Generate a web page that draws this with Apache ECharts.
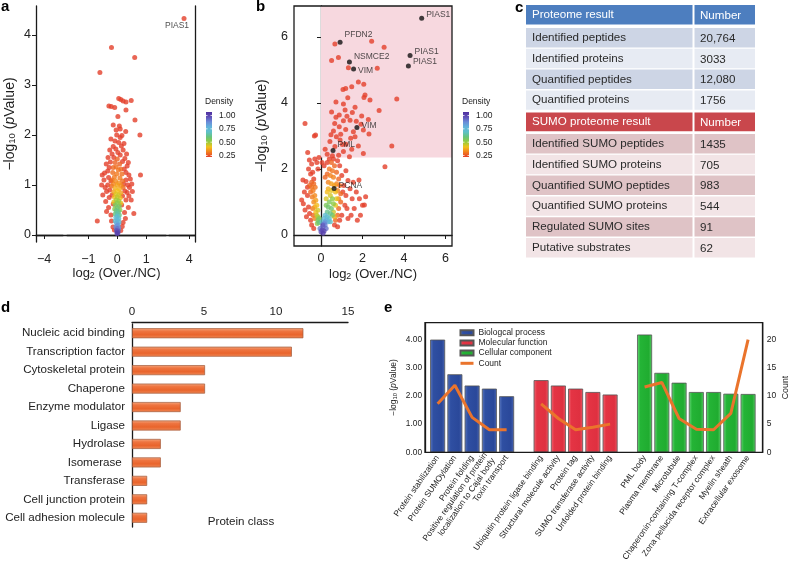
<!DOCTYPE html>
<html><head><meta charset="utf-8">
<script src="https://cdn.jsdelivr.net/npm/echarts@6/dist/echarts.min.js"></script>
<style>html,body{margin:0;padding:0;background:#fff}#c{width:791px;height:561px}</style>
</head><body><div id="c"></div>
<script>
// ---------------- DATA ----------------
// Panel a: [log2 ratio, -log10 p, density]
const aPoints = [
[-0.20,3.75,0.22],[0.60,3.55,0.22],[-0.60,3.25,0.22],
[0.05,2.73,0.22],[0.12,2.71,0.22],[0.20,2.68,0.22],[0.30,2.66,0.22],[0.48,2.69,0.22],
[-0.29,2.58,0.22],[-0.21,2.57,0.22],[-0.09,2.55,0.22],[0.30,2.50,0.22],[0.02,2.37,0.22],[0.61,2.30,0.22],
[-0.14,2.20,0.22],[0.07,2.18,0.22],[0.29,2.07,0.22],[0.78,2.00,0.22],[0.10,2.12,0.22],[-0.04,2.10,0.22],
[0.23,1.83,0.22],[-0.14,1.77,0.22],[-0.22,1.92,0.22],[0.10,1.95,0.22],[-0.02,2.00,0.22],[0.16,1.99,0.22],
[-0.08,1.88,0.22],[0.05,1.85,0.22],[0.14,1.78,0.22],[-0.26,1.70,0.22],[0.20,1.70,0.22],[0.32,1.62,0.22],
[-0.05,1.72,0.22],[0.02,1.65,0.22],[-0.18,1.62,0.22],[0.10,1.60,0.22],[-0.32,1.55,0.22],[0.26,1.53,0.22],
[-0.12,1.55,0.22],[0.38,1.45,0.22],[-0.38,1.42,0.22],[0.34,1.38,0.22],[-0.24,1.46,0.22],[0.18,1.47,0.22],
[-0.28,1.35,0.22],[0.24,1.32,0.22],[0.80,1.20,0.22],[0.40,1.20,0.22],[-0.52,1.20,0.22],[-0.44,1.24,0.22],
[-0.33,1.28,0.22],[0.30,1.25,0.22],[-0.30,1.15,0.22],[0.30,1.10,0.22],[-0.22,1.08,0.22],[0.22,1.02,0.22],
[-0.54,1.00,0.22],[0.50,1.02,0.22],[0.42,0.95,0.22],[-0.42,0.95,0.22],[-0.37,0.87,0.22],[0.52,0.87,0.22],
[0.34,0.85,0.22],[-0.26,0.90,0.22],[0.26,0.88,0.22],[0.48,0.70,0.22],[-0.40,0.67,0.22],[0.30,0.70,0.22],
[-0.28,0.75,0.22],[0.57,0.43,0.22],[-0.37,0.47,0.22],[-0.69,0.28,0.22],[0.38,0.55,0.22],[-0.30,0.55,0.22],
[0.25,0.45,0.22],[-0.22,0.40,0.22],[0.28,0.33,0.22],[0.20,0.25,0.22],[-0.20,0.28,0.22],[-0.15,0.16,0.22],
[0.17,0.17,0.22],[-0.10,0.10,0.22],[0.12,0.09,0.22],[-0.18,0.80,0.22],[0.18,0.78,0.22],[-0.14,0.62,0.22],
[0.15,0.60,0.22],[-0.46,1.10,0.22],[0.45,1.12,0.22],[-0.50,0.80,0.22],[0.40,0.78,0.22],[-0.33,1.00,0.22],[0.36,1.00,0.22],
[0.00,1.52,0.27],[-0.08,1.45,0.27],[0.08,1.42,0.27],[-0.14,1.35,0.28],[0.12,1.32,0.28],[-0.04,1.36,0.29],
[0.04,1.30,0.30],[-0.16,1.25,0.29],[0.16,1.22,0.29],[-0.02,1.22,0.31],[-0.10,1.16,0.31],[0.09,1.14,0.31],
[-0.18,1.10,0.29],[0.18,1.08,0.29],[-0.06,1.08,0.33],[0.05,1.04,0.34],[-0.13,1.02,0.32],[0.13,0.99,0.33],
[-0.20,0.98,0.28],[0.20,0.95,0.28],[0.00,1.00,0.36],
[-0.08,0.94,0.38],[0.07,0.92,0.38],[0.00,0.88,0.41],[-0.12,0.86,0.36],[0.12,0.84,0.36],[-0.05,0.82,0.43],
[0.05,0.80,0.44],[-0.10,0.76,0.40],[0.10,0.74,0.40],[0.00,0.76,0.46],[-0.04,0.70,0.49],[0.05,0.68,0.50],
[-0.12,0.66,0.42],[0.12,0.64,0.42],
[0.00,0.64,0.53],[-0.07,0.60,0.55],[0.07,0.58,0.55],[0.00,0.55,0.58],[-0.09,0.52,0.52],[0.09,0.50,0.52],
[-0.04,0.49,0.61],[0.04,0.47,0.62],[0.00,0.43,0.65],[-0.07,0.42,0.60],[0.07,0.40,0.60],
[0.00,0.38,0.70],[-0.05,0.35,0.72],[0.05,0.33,0.72],[0.00,0.30,0.76],[-0.07,0.28,0.70],[0.06,0.26,0.72],
[-0.03,0.24,0.80],[0.03,0.21,0.82],[0.00,0.19,0.86],
[-0.05,0.16,0.85],[0.05,0.14,0.86],[0.00,0.13,0.92],[-0.03,0.09,0.96],[0.03,0.08,0.96],[0.00,0.06,1.00],
[-0.01,0.03,1.02],[0.02,0.04,1.00]
];
const aOutlierNames = ['PIAS1'];
const aOutlierPoints = [[3.82,4.33,0.22]];

// Panel b: [log2 ratio, -log10 p, density]
const bPoints = [
[0.67,5.79,0.22],[2.44,5.87,0.22],[3.04,5.69,0.22],[0.51,5.29,0.22],[0.84,5.38,0.22],[1.32,5.07,0.22],
[2.71,5.05,0.22],[1.80,4.64,0.22],[1.06,4.41,0.22],[1.19,4.44,0.22],[1.48,4.49,0.22],[2.06,4.57,0.22],
[2.12,4.24,0.22],[2.07,4.17,0.22],[2.36,4.09,0.22],[3.65,4.12,0.22],[1.29,4.16,0.22],[0.72,4.03,0.22],
[1.08,3.97,0.22],[1.64,3.87,0.22],[1.16,3.79,0.22],[0.51,3.73,0.22],[1.51,3.71,0.22],[0.88,3.64,0.22],
[1.96,3.61,0.22],[2.80,3.77,0.22],[0.72,3.57,0.22],[1.08,3.46,0.22],[0.66,3.38,0.22],[1.40,3.48,0.22],
[2.28,3.50,0.22],[1.93,3.36,0.22],[0.88,3.28,0.22],[1.19,3.20,0.22],[1.56,3.13,0.22],[2.04,3.18,0.22],
[2.31,3.06,0.22],[0.48,3.04,0.22],[0.74,2.98,0.22],[0.92,2.88,0.22],[1.43,2.93,0.22],[1.64,2.98,0.22],
[1.03,2.74,0.22],[1.80,2.70,0.22],[0.67,2.68,0.22],[0.43,2.83,0.22],[3.41,2.70,0.22],[1.48,2.60,0.22],
[1.08,2.53,0.22],[2.04,2.47,0.22],[1.37,2.37,0.22],[0.30,2.45,0.22],[0.55,2.40,0.22],[0.85,2.42,0.22],
[0.20,2.60,0.22],[1.25,3.60,0.22],[1.70,3.45,0.22],[0.95,3.05,0.22],[1.20,2.75,0.22],[0.60,3.15,0.22],
[3.08,2.07,0.22],[2.15,1.16,0.22],[2.09,0.91,0.22],[1.83,1.67,0.22],
[-0.77,3.38,0.22],[-0.32,3.00,0.22],[-0.26,3.03,0.22],[-0.64,2.50,0.22],[-0.56,2.27,0.22],[-0.87,1.67,0.22],
[-0.72,1.62,0.22],[-0.93,1.06,0.22],[-0.77,0.76,0.22],[-0.60,2.00,0.22],[-0.45,2.15,0.22],[-0.30,2.30,0.22],
[-0.50,1.85,0.22],[-0.80,1.30,0.22],[-0.65,1.20,0.22],[-0.85,0.95,0.22],[-0.60,0.85,0.22],[-0.70,0.55,0.22],
[-0.50,0.45,0.22],[-0.55,0.65,0.22],[-0.40,1.90,0.22],[-0.20,2.20,0.22],[-0.35,1.70,0.22],[-0.15,2.00,0.22],
[-0.10,2.35,0.22],[0.05,2.20,0.22],[0.15,2.10,0.22],[-0.65,1.45,0.22],[-0.45,0.30,0.22],[-0.35,0.20,0.22],
[1.00,1.80,0.22],[1.10,1.50,0.22],[1.20,1.20,0.22],[1.15,0.90,0.22],[1.00,0.60,0.22],[0.90,0.45,0.22],
[1.30,1.65,0.22],[1.40,1.40,0.22],[1.50,1.10,0.22],[1.60,0.80,0.22],[1.45,0.60,0.22],[1.70,1.30,0.22],
[1.85,1.10,0.22],[2.00,0.90,0.22],[1.90,0.60,0.22],[1.30,0.50,0.22],[1.75,0.45,0.22],[1.55,1.60,0.22],
[1.20,1.95,0.22],[0.90,2.10,0.22],[0.80,2.25,0.22],[0.40,2.30,0.22],[0.65,0.30,0.22],[0.80,0.25,0.22],
[1.25,0.80,0.22],[1.05,1.30,0.22],[0.30,2.20,0.22],[0.60,2.30,0.22],
[0.50,2.20,0.28],[0.65,2.10,0.28],[0.75,1.90,0.28],[0.85,1.70,0.28],[0.90,1.50,0.28],[0.95,1.25,0.28],
[0.95,1.00,0.28],[0.85,0.80,0.28],[0.80,0.60,0.28],[0.70,0.45,0.28],[0.40,2.00,0.30],[0.55,1.95,0.30],
[0.30,1.85,0.28],[0.35,1.60,0.32],[0.60,1.75,0.32],[0.75,1.55,0.32],[0.80,1.35,0.32],[0.85,1.10,0.32],
[0.20,1.75,0.28],[0.45,1.80,0.32],
[-0.55,1.50,0.27],[-0.45,1.45,0.29],[-0.50,1.30,0.28],[-0.38,1.35,0.31],[-0.42,1.15,0.31],[-0.30,1.20,0.33],
[-0.35,1.00,0.33],[-0.25,1.05,0.36],[-0.30,0.85,0.36],[-0.20,0.90,0.40],[-0.25,0.70,0.40],[-0.15,0.75,0.44],
[-0.45,1.60,0.27],[-0.35,1.55,0.28],[-0.28,1.45,0.30],[-0.40,0.80,0.30],[-0.20,0.60,0.45],[-0.15,0.55,0.48],
[-0.38,0.60,0.28],[-0.30,0.50,0.32],
[-0.15,0.45,0.55],[-0.10,0.38,0.60],[-0.08,0.50,0.55],[-0.18,0.35,0.52],
[0.35,1.40,0.38],[0.50,1.55,0.36],[0.65,1.50,0.36],[0.70,1.30,0.40],[0.75,1.10,0.42],[0.70,0.90,0.42],
[0.60,0.70,0.45],[0.45,1.20,0.44],[0.30,1.30,0.40],[0.25,1.10,0.44],[0.50,1.35,0.42],[0.65,0.55,0.38],
[0.40,1.00,0.55],[0.55,1.10,0.52],[0.60,0.95,0.52],[0.50,0.80,0.58],[0.35,0.85,0.58],[0.45,0.65,0.62],
[0.30,0.70,0.62],[0.25,0.90,0.55],[0.55,0.60,0.55],
[0.30,0.55,0.70],[0.40,0.50,0.70],[0.20,0.60,0.72],[0.35,0.40,0.76],[0.25,0.45,0.78],[0.15,0.50,0.75],
[0.05,0.40,0.70],[0.45,0.40,0.68],
[0.15,0.35,0.88],[0.20,0.30,0.90],[0.10,0.25,0.94],[0.25,0.20,0.92],[0.05,0.15,0.98],[0.15,0.12,1.00],
[0.00,0.10,0.98],[0.10,0.05,1.02],[-0.05,0.20,0.90],[0.20,0.40,0.84],[0.08,0.30,0.95]
];
const bHighlightNames = ['PIAS1','PFDN2','NSMCE2','VIM','PIAS1','PIAS1','VIM','PML','PCNA'];
const bHighlightPoints = [[4.85,6.57],[0.92,5.84],[1.37,5.24],[1.57,5.03],[4.29,5.44],[4.21,5.12],[1.73,3.26],[0.58,2.56],[0.63,1.41]];
const bRegionLowY = 2.35;   // lower bound of shaded significance region

const aYTicks = [0,1,2,3,4];
const aXTicks1 = [-4], aXTicks2 = [-1,0,1], aXTicks3 = [4];
const bXTicks = [0,2,4,6], bYTicks = [0,2,4,6];
const densityTicks = [1.00,0.75,0.50,0.25];

// Panel c table
const proteomeHeader = ['Proteome result','Number'];
const proteomeRows = [['Identified peptides','20,764'],['Identified proteins','3033'],['Quantified peptides','12,080'],['Quantified proteins','1756']];
const sumoHeader = ['SUMO proteome result','Number'];
const sumoRows = [['Identified SUMO peptides','1435'],['Identified SUMO proteins','705'],['Quantified SUMO peptides','983'],['Quantified SUMO proteins','544'],['Regulated SUMO sites','91'],['Putative substrates','62']];

// Panel d
const dCategories = ['Nucleic acid binding','Transcription factor','Cytoskeletal protein','Chaperone','Enzyme modulator','Ligase','Hydrolase','Isomerase ','Transferase','Cell junction protein','Cell adhesion molecule'];
const dValues = [11.9,11.1,5.07,5.07,3.38,3.38,2.0,2.0,1.05,1.05,1.05];

// Panel e
const eBioNames = ['Protein stabilization','Protein SUMOylation','Protein folding','Positive regulation of protein\nlocalization to Cajal body','Toxin transport'];
const eMolNames = ['Ubiquitin protein ligase binding','Structural molecule activity','Protein tag','SUMO transferase activity','Unfolded protein binding'];
const eCellNames = ['PML body','Plasma membrane','Microtubule','Chaperonin-containing T-complex','Zona pellucida receptor complex','Myelin sheath','Extracellular exosome'];
const eBioValues = [4.00,2.77,2.37,2.26,1.99];
const eMolValues = [2.56,2.37,2.26,2.14,2.05];
const eCellValues = [4.18,2.82,2.47,2.14,2.14,2.08,2.07];
const eBioCount = [8.6,11.9,6.2,4.0,4.0];
const eMolCount = [8.6,6.0,4.0,4.45,5.0];
const eCellCount = [11.6,12.4,6.0,4.1,4.0,6.9,20];
const eSeriesNames = ['Biologcal process','Molecular function','Cellular component','Count'];
const eLeftTicks = [0,1,2,3,4], eRightTicks = [0,5,10,15,20];

// ---------------- BUILD ----------------
const FONT = '"Liberation Sans", Arial, Helvetica, sans-serif';
const INK = '#222';
const AXL = {show:true, lineStyle:{color:'#1a1a1a', width:1.3}};
const DMIN = 0.22, DMAX = 1.07;
const densityColors = ['#e4402a','#f27e1e','#f2c21c','#98cc3c','#68c47a','#5ec0c8','#62b4dc','#6a8cd8','#6050b8','#5030a0'];
const minus = v => String(v).replace('-', '\u2212');
const byDensity = (p,q) => p[2]-q[2];

const A_YMIN = -0.14, A_YMAX = 4.58;
const B_XMIN = -1.3, B_XMAX = 6.31, B_YMIN = -0.333, B_YMAX = 6.94;

function titleStyle(size){
  return {fontSize:size, fontFamily:FONT, color:INK,
    rich:{ s:{fontSize:size*0.68, fontFamily:FONT, color:INK, verticalAlign:'bottom', lineHeight:size*0.75},
           i:{fontSize:size, fontFamily:FONT, color:INK, fontStyle:'italic'},
           n:{fontSize:size, fontFamily:FONT, color:INK}}};
}
const yTitle = '{n|\u2212log}{s|10}{n| (}{i|p}{n|Value)}';
const xTitle = '{n|log}{s|2}{n| (Over./NC)}';
const tickLab = (vals, extra) => Object.assign({customValues:vals, formatter:minus, fontSize:12.5, color:INK, fontFamily:FONT}, extra||{});

const eN = eBioNames.length + 1 + eMolNames.length + 1 + eCellNames.length;
const eCategories = [...eBioNames, ' ', ...eMolNames, '  ', ...eCellNames];
const pad = n => Array(n).fill(null);
const eBioData = [...eBioValues, ...pad(eN - eBioValues.length)];
const eMolData = [...pad(eBioNames.length+1), ...eMolValues, ...pad(eCellNames.length+1)];
const eCellData = [...pad(eN - eCellValues.length), ...eCellValues];
const eCountData = [...eBioCount, null, ...eMolCount, null, ...eCellCount];

const hGrad = (c0,c1,c2,c3) => new echarts.graphic.LinearGradient(0,0,1,0,[{offset:0,color:c0},{offset:0.22,color:c1},{offset:0.78,color:c2},{offset:1,color:c3}]);
const eColors = [hGrad('#5a78c0','#2f4fa2','#2a489a','#4a66b0'), hGrad('#f06a76','#e43444','#df3040','#ea5a66'), hGrad('#6ad87a','#24b436','#20ac30','#5acb68')];
const dGrad = new echarts.graphic.LinearGradient(0,0,0,1,[{offset:0,color:'#f5a67e'},{offset:0.3,color:'#ee7440'},{offset:0.65,color:'#e9642c'},{offset:1,color:'#ef8856'}]);

// graphic elements
const els = [];
const letterStyle = t => ({text:t, fontSize:15, fontWeight:'bold', fontFamily:FONT, fill:'#000', verticalAlign:'middle'});
els.push({type:'text', x:1, y:7, style:letterStyle('a')});
els.push({type:'text', x:256, y:7, style:letterStyle('b')});
els.push({type:'text', x:515, y:8, style:letterStyle('c')});
els.push({type:'text', x:1, y:308, style:letterStyle('d')});
els.push({type:'text', x:384, y:308, style:letterStyle('e')});

function densityLegend(x, y){
  const h = 45;
  const stops = densityColors.slice().reverse().map((c,i,arr)=>({offset:i/(arr.length-1), color:c}));
  els.push({type:'text', x:x-1, y:y-10, style:{text:'Density', fontSize:8.5, fontFamily:FONT, fill:INK, verticalAlign:'middle'}});
  els.push({type:'rect', shape:{x:x, y:y, width:6, height:h}, style:{fill:new echarts.graphic.LinearGradient(0,0,0,1,stops)}});
  densityTicks.forEach(v=>{
    const ty = y + (DMAX - v)/(DMAX - DMIN)*h;
    els.push({type:'rect', shape:{x:x, y:ty-0.4, width:1.5, height:0.8}, style:{fill:'#fff'}});
    els.push({type:'rect', shape:{x:x+4.5, y:ty-0.4, width:1.5, height:0.8}, style:{fill:'#fff'}});
    els.push({type:'text', x:x+13, y:ty, style:{text:v.toFixed(2), fontSize:8.5, fontFamily:FONT, fill:INK, verticalAlign:'middle'}});
  });
}
densityLegend(206, 112);
densityLegend(463, 112);

// table
const T_L = 526, T_SPLIT = 692.5, T_C2 = 694.5, T_R = 755;
function tableRow(cells, y, h, fill, color){
  els.push({type:'rect', shape:{x:T_L, y:y, width:T_SPLIT-T_L, height:h}, style:{fill:fill}});
  els.push({type:'rect', shape:{x:T_C2, y:y, width:T_R-T_C2, height:h}, style:{fill:fill}});
  els.push({type:'text', x:T_L+6, y:y+h/2, style:{text:cells[0], fontSize:11.6, fontFamily:FONT, fill:color, verticalAlign:'middle'}});
  els.push({type:'text', x:T_C2+5.5, y:y+h/2+0.8, style:{text:cells[1], fontSize:11.6, fontFamily:FONT, fill:color, verticalAlign:'middle'}});
}
tableRow(proteomeHeader, 5, 19.5, '#4d7ebf', '#fff');
proteomeRows.forEach((r,i)=>tableRow(r, 28 + i*20.8, 19.4, i%2===0 ? '#cdd5e5' : '#e7ebf3', '#2a2a2a'));
tableRow(sumoHeader, 112.4, 18.8, '#c9474c', '#fff');
sumoRows.forEach((r,i)=>tableRow(r, 134 + i*20.8, 19.4, i%2===0 ? '#dfc3c6' : '#f2e4e6', '#2a2a2a'));

els.push({type:'text', x:241, y:522, style:{text:'Protein class', fontSize:11.6, fontFamily:FONT, fill:INK, align:'center', verticalAlign:'middle'}});

const bLabelDy = [-4,-8,-5,2,-4,-4,-2,-6,-3];

const option = {
  animation:false,
  backgroundColor:'#fff',
  textStyle:{fontFamily:FONT},
  grid:[
    {left:36, top:6, width:159, height:236, outerBoundsMode:'none'},
    {left:36, top:6, width:27, height:236, outerBoundsMode:'none'},
    {left:67, top:6, width:99, height:236, outerBoundsMode:'none'},
    {left:169, top:6, width:26, height:236, outerBoundsMode:'none'},
    {left:294, top:6, width:158, height:240, show:true, borderColor:'#1a1a1a', borderWidth:1.3, z:10, outerBoundsMode:'none'},
    {left:132, top:324, width:216, height:203, outerBoundsMode:'none'},
    {left:425, top:322.7, width:337.7, height:129.6, show:true, borderColor:'#1a1a1a', borderWidth:1.3, z:10, outerBoundsMode:'none'},
    {left:429, top:322.7, width:327.7, height:129.6, outerBoundsMode:'none'}
  ],
  xAxis:[
    {gridIndex:0, type:'value', position:'top', min:0, max:1, axisLine:AXL, axisTick:{show:false}, axisLabel:{show:false}, splitLine:{show:false}},
    {gridIndex:1, type:'value', min:-4.28, max:-3.34, offset:6, axisLine:AXL, axisTick:{length:4, customValues:aXTicks1, lineStyle:{color:'#1a1a1a'}}, axisLabel:tickLab(aXTicks1,{margin:5}), splitLine:{show:false}},
    {gridIndex:2, type:'value', min:-1.735, max:1.68, offset:6, axisLine:AXL, axisTick:{length:4, customValues:aXTicks2, lineStyle:{color:'#1a1a1a'}}, axisLabel:tickLab(aXTicks2,{margin:5}), splitLine:{show:false},
      name:xTitle, nameLocation:'middle', nameGap:19, nameTextStyle:titleStyle(13)},
    {gridIndex:3, type:'value', min:3.3, max:4.2, offset:6, axisLine:AXL, axisTick:{length:4, customValues:aXTicks3, lineStyle:{color:'#1a1a1a'}}, axisLabel:tickLab(aXTicks3,{margin:5}), splitLine:{show:false}},
    {gridIndex:4, type:'value', min:B_XMIN, max:B_XMAX, axisLine:AXL, axisTick:{length:4, customValues:bXTicks, lineStyle:{color:'#1a1a1a'}}, axisLabel:tickLab(bXTicks,{margin:6}), splitLine:{show:false},
      name:xTitle, nameLocation:'middle', nameGap:22, nameTextStyle:titleStyle(13)},
    {gridIndex:5, type:'value', position:'top', min:0, max:15, interval:5, offset:2, axisLine:AXL, axisTick:{length:3, lineStyle:{color:'#1a1a1a'}}, axisLabel:{fontSize:11.6, color:INK, margin:4}, splitLine:{show:false}},
    {gridIndex:6, type:'value', show:false},
    {gridIndex:7, type:'category', data:eCategories, axisLine:{show:false}, axisTick:{show:false},
      axisLabel:{interval:0, rotate:55, fontSize:8.4, color:INK, margin:4, lineHeight:9.5}, splitLine:{show:false}}
  ],
  yAxis:[
    {gridIndex:0, type:'value', min:A_YMIN, max:A_YMAX, axisLine:AXL, axisTick:{length:4, customValues:aYTicks, lineStyle:{color:'#1a1a1a'}}, axisLabel:tickLab(aYTicks,{margin:5}), splitLine:{show:false},
      name:yTitle, nameLocation:'middle', nameRotate:90, nameGap:19, nameTextStyle:titleStyle(14)},
    {gridIndex:0, type:'value', position:'right', min:A_YMIN, max:A_YMAX, axisLine:AXL, axisTick:{show:false}, axisLabel:{show:false}, splitLine:{show:false}},
    {gridIndex:1, type:'value', min:A_YMIN, max:A_YMAX, show:false},
    {gridIndex:2, type:'value', min:A_YMIN, max:A_YMAX, show:false},
    {gridIndex:3, type:'value', min:A_YMIN, max:A_YMAX, show:false},
    {gridIndex:4, type:'value', min:B_YMIN, max:B_YMAX, axisLine:AXL, axisTick:{length:4, customValues:bYTicks, lineStyle:{color:'#1a1a1a'}}, axisLabel:tickLab(bYTicks,{margin:6}), splitLine:{show:false},
      name:yTitle, nameLocation:'middle', nameRotate:90, nameGap:25, nameTextStyle:titleStyle(14)},
    {gridIndex:5, type:'category', inverse:true, data:dCategories, axisLine:AXL, axisTick:{length:3, lineStyle:{color:'#1a1a1a'}}, axisLabel:{fontSize:11.6, color:INK, margin:7}},
    {gridIndex:6, type:'value', show:false},
    {gridIndex:7, type:'value', min:0, max:4.6, offset:4, axisLine:AXL, axisTick:{length:3, customValues:eLeftTicks, lineStyle:{color:'#1a1a1a'}},
      axisLabel:{customValues:eLeftTicks, formatter:v=>v.toFixed(2), fontSize:8.3, color:INK, margin:3}, splitLine:{show:false},
      name:yTitle, nameLocation:'middle', nameRotate:90, nameGap:27, nameTextStyle:titleStyle(8.5)},
    {gridIndex:7, type:'value', position:'right', min:0, max:23, offset:6, axisLine:AXL, axisTick:{length:3, customValues:eRightTicks, lineStyle:{color:'#1a1a1a'}},
      axisLabel:{customValues:eRightTicks, fontSize:8.5, color:INK, margin:4}, splitLine:{show:false},
      name:'Count', nameLocation:'middle', nameRotate:90, nameGap:18, nameTextStyle:{fontSize:8.8, color:INK, fontFamily:FONT}}
  ],
  visualMap:[{type:'continuous', show:false, seriesIndex:[0,1,2], dimension:2, min:DMIN, max:DMAX, inRange:{color:densityColors}}],
  legend:{
    data:eSeriesNames.map((n,i)=> i<3 ? {name:n, icon:'rect'} : {name:n, itemStyle:{opacity:0, borderWidth:0}, lineStyle:{color:'#ea742c', width:3}}),
    left:459, top:327.6, orient:'vertical', itemWidth:13, itemHeight:5, itemGap:0, padding:0, selectedMode:false,
    textStyle:{fontSize:8.5, lineHeight:10.2, color:INK, fontFamily:FONT}
  },
  series:[
    {type:'scatter', xAxisIndex:2, yAxisIndex:3, data:aPoints.slice().sort(byDensity), symbolSize:5, silent:true},
    {type:'scatter', xAxisIndex:3, yAxisIndex:4, data:aOutlierPoints.map((p,i)=>({name:aOutlierNames[i], value:p})), symbolSize:5, silent:true,
      label:{show:true, formatter:'{b}', position:'bottom', offset:[-7,-5], fontSize:8.5, color:INK, fontFamily:FONT}},
    {type:'scatter', xAxisIndex:4, yAxisIndex:5, data:bPoints.slice().sort(byDensity), symbolSize:5, silent:true,
      markArea:{silent:true, itemStyle:{color:'#f7d8df', opacity:1}, data:[[{coord:[0, bRegionLowY]},{coord:[B_XMAX, B_YMAX]}]]}},
    {type:'scatter', xAxisIndex:4, yAxisIndex:5, symbolSize:5, silent:true, z:4, itemStyle:{color:'#111'},
      data:bHighlightPoints.map((p,i)=>({name:bHighlightNames[i], value:p, label:{offset:[0,bLabelDy[i]]}})),
      label:{show:true, formatter:'{b}', position:'right', distance:2, fontSize:8.5, color:INK, fontFamily:FONT}},
    {type:'bar', xAxisIndex:5, yAxisIndex:6, data:dValues, barWidth:10, silent:true,
      itemStyle:{color:dGrad, borderColor:'#a0593a', borderWidth:0.7}},
    {type:'bar', name:eSeriesNames[0], xAxisIndex:7, yAxisIndex:8, data:eBioData, barWidth:15, barGap:'-100%', silent:true, itemStyle:{color:eColors[0], borderColor:'#555', borderWidth:0.8}},
    {type:'bar', name:eSeriesNames[1], xAxisIndex:7, yAxisIndex:8, data:eMolData, barWidth:15, barGap:'-100%', silent:true, itemStyle:{color:eColors[1], borderColor:'#555', borderWidth:0.8}},
    {type:'bar', name:eSeriesNames[2], xAxisIndex:7, yAxisIndex:8, data:eCellData, barWidth:15, barGap:'-100%', silent:true, itemStyle:{color:eColors[2], borderColor:'#555', borderWidth:0.8}},
    {type:'line', name:eSeriesNames[3], xAxisIndex:7, yAxisIndex:9, data:eCountData, symbol:'none', connectNulls:false, silent:true, z:5,
      lineStyle:{color:'#ea742c', width:3}, itemStyle:{color:'#ea742c'}}
  ],
  graphic:{elements:els}
};
const chart = echarts.init(document.getElementById('c'), null, {renderer:'canvas'});
chart.setOption(option);
</script></body></html>
